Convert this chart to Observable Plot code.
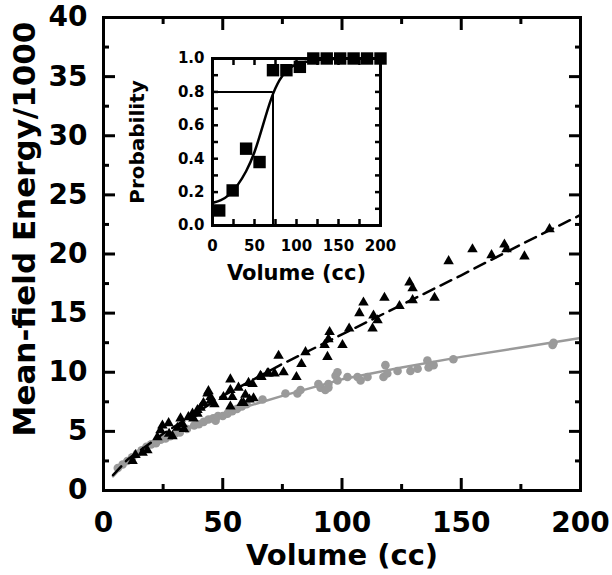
<!DOCTYPE html>
<html><head><meta charset="utf-8">
<script src="https://cdn.jsdelivr.net/npm/d3@7"></script>
<script src="https://cdn.jsdelivr.net/npm/@observablehq/plot@0.6"></script>
<style>
body{margin:0;background:#fff}
#wrap{position:relative;width:612px;height:575px}
#wrap svg{position:absolute}
</style>
</head><body><div id="wrap"></div><script>
// Main chart: black triangles (volume cc, energy/1000)
const triX = [12.2,13.4,16.4,18.4,22.6,23.9,24.7,27.3,27.5,28.9,31,32.3,33.2,33.7,35.6,37.3,39.4,39.4,37.7,40.7,41.9,43.6,44,44.9,44.9,46.5,50.3,53.2,53.2,53.2,54,56.6,57.9,58.7,59.5,60.8,61.2,62.5,62.9,65.8,66.2,68.7,69.2,71.7,73.4,75.5,80.9,83,84.7,92.7,93.9,94.3,94.8,100.2,103,107.3,109,112.8,113.2,114.9,117.8,124.1,128.3,129.6,129.6,138.8,144.7,154.7,162.7,168.1,169,176.5,187];
const triY = [2.5,3.0,3.2,3.4,4.5,5.1,5.5,5.7,4.8,4.6,5.3,6.1,5.6,5.2,6.2,6.5,6.5,6.8,6.1,7.0,7.4,8.2,8.4,7.9,7.6,7.3,7.9,7.1,8.5,9.4,7.9,8.7,7.4,7.4,8.1,9.1,7.7,9.0,7.8,9.7,9.6,9.9,9.9,9.9,11.4,10.0,9.6,10.7,11.7,12.3,11.3,12.8,13.4,12.3,13.7,15.0,15.9,13.7,14.8,14.4,16.3,15.6,17.6,17.1,16.1,16.3,19.4,20.4,19.9,20.8,20.4,19.8,22.1];
// Main chart: grey circles
const cirX = [6,8,10,12,14,16,18,20,22,24,26,28,30,32,35,38,40,42,44,46,47,48,50,52,54,56,58,60,66.7,76.3,81.3,82.6,90.1,91,93,94.3,94.3,97.3,98.1,98.1,102.3,106.5,107.8,110.7,117.4,118.2,119,123.3,128.7,131.7,135.8,136.3,138.4,146.7,188.3,188.7];
const cirY = [1.9,2.2,2.5,2.8,3.1,3.4,3.7,3.9,4.0,4.3,4.4,4.6,4.8,4.9,5.2,5.5,5.6,5.8,6.0,6.1,5.9,6.3,6.3,6.5,6.7,6.9,7.1,7.3,7.7,8.2,8.2,8.5,9.0,8.7,8.5,9.0,8.7,9.7,10.0,9.3,9.6,9.6,9.3,9.6,9.6,10.6,9.9,10.1,10.1,10.3,11.0,10.4,10.6,11.1,12.3,12.5];
// Fitted curves
const dashFitX = [4,10,25,50,75,100,125,150,175,200];
const dashFitY = [1.3,2.6,4.8,8.0,10.7,13.2,15.7,18.2,20.8,23.3];
const greyFitX = [4,10,20,30,50,75,100,125,150,175,200];
const greyFitY = [1.2,2.5,3.9,4.9,6.5,8.0,9.4,10.4,11.3,12.1,12.9];
// Axis ticks
const xMajor = [0,50,100,150,200], xMinor = [25,75,125,175];
const yMajor = [0,5,10,15,20,25,30,35,40], yMinor = [2.5,7.5,12.5,17.5,22.5,27.5,32.5,37.5];

// Inset: probability vs volume
const sqX = [8,24,40,56,72,88,104,120,136,152,168,184,200];
const sqY = [0.09,0.21,0.46,0.38,0.93,0.93,0.95,1,1,1,1,1,1];
const sigX = [0,10,20,30,40,50,60,70,80,90,100,120,150,200];
const sigY = [0.135,0.15,0.18,0.24,0.32,0.43,0.6,0.77,0.88,0.94,0.97,0.99,1,1];
const threshP = 0.8, threshV = 72;
const ixTicks = [0,50,100,150,200], ixAll = [0,25,50,75,100,125,150,175,200];
const iyTicks = [0,0.2,0.4,0.6,0.8,1.0], iyAll = [0,0.1,0.2,0.3,0.4,0.5,0.6,0.7,0.8,0.9,1.0];

const tri = triX.map((x,i)=>({x, y: triY[i]}));
const cir = cirX.map((x,i)=>({x, y: cirY[i]}));
const dashFit = dashFitX.map((x,i)=>({x, y: dashFitY[i]}));
const greyFit = greyFitX.map((x,i)=>({x, y: greyFitY[i]}));
const sq = sqX.map((x,i)=>({x, y: sqY[i]}));
const sig = sigX.map((x,i)=>({x, y: sigY[i]}));

const FONT = "font-family:'DejaVu Sans',sans-serif;font-weight:bold;background:transparent;overflow:visible;color:black;";
const blank = () => "";

const main = Plot.plot({
  width: 612, height: 575,
  marginLeft: 103, marginRight: 32, marginTop: 17, marginBottom: 85,
  x: {domain: [0,200]},
  y: {domain: [0,40]},
  style: FONT,
  marks: [
    Plot.line(greyFit, {x:"x", y:"y", stroke:"#9a9a9a", strokeWidth:2.5}),
    Plot.dot(cir, {x:"x", y:"y", r:4.3, fill:"#9a9a9a", stroke:"none"}),
    Plot.line(dashFit, {x:"x", y:"y", stroke:"black", strokeWidth:2.5, strokeDasharray:"12,7"}),
    Plot.dot(tri, {x:"x", y:"y", symbol:"triangle", r:3.9, fill:"black", stroke:"none"}),
    // labels
    Plot.axisX({anchor:"bottom", ticks:xMajor, tickSize:0, tickPadding:22, fontSize:28, label:null}),
    Plot.axisY({anchor:"left", ticks:yMajor, tickSize:0, tickPadding:16, fontSize:28, label:null}),
    // inward ticks
    Plot.axisX({anchor:"bottom", ticks:xMajor, tickSize:-12, tickFormat:blank, strokeWidth:3, label:null}),
    Plot.axisX({anchor:"bottom", ticks:xMinor, tickSize:-6, tickFormat:blank, strokeWidth:3, label:null}),
    Plot.axisX({anchor:"top", ticks:xMajor, tickSize:-12, tickFormat:blank, strokeWidth:3, label:null}),
    Plot.axisX({anchor:"top", ticks:xMinor, tickSize:-6, tickFormat:blank, strokeWidth:3, label:null}),
    Plot.axisY({anchor:"left", ticks:yMajor, tickSize:-12, tickFormat:blank, strokeWidth:3, label:null}),
    Plot.axisY({anchor:"left", ticks:yMinor, tickSize:-6, tickFormat:blank, strokeWidth:3, label:null}),
    Plot.axisY({anchor:"right", ticks:yMajor, tickSize:-12, tickFormat:blank, strokeWidth:3, label:null}),
    Plot.axisY({anchor:"right", ticks:yMinor, tickSize:-6, tickFormat:blank, strokeWidth:3, label:null}),
    Plot.frame({stroke:"black", strokeWidth:3}),
    Plot.text(["Volume (cc)"], {text:d=>d, frameAnchor:"bottom", dy:65, textAnchor:"middle", lineAnchor:"middle", fontSize:29, fontWeight:"bold"}),
    Plot.text(["Mean-field Energy/1000"], {text:d=>d, frameAnchor:"left", dx:-78, dy:-25, rotate:-90, textAnchor:"middle", lineAnchor:"middle", fontSize:31, fontWeight:"bold"})
  ]
});
main.style.left = "0px"; main.style.top = "0px";

const inset = Plot.plot({
  width: 228, height: 222,
  marginLeft: 45, marginRight: 15, marginTop: 10, marginBottom: 45,
  x: {domain: [0,200]},
  y: {domain: [0,1]},
  style: FONT,
  marks: [
    Plot.ruleY([threshP], {x1: 0, x2: threshV, stroke:"black", strokeWidth:2}),
    Plot.ruleX([threshV], {y1: 0, y2: threshP, stroke:"black", strokeWidth:2}),
    Plot.line(sig, {x:"x", y:"y", stroke:"black", strokeWidth:2.5, curve:"basis"}),
    Plot.axisX({anchor:"bottom", ticks:ixTicks, tickSize:0, tickPadding:15, fontSize:15, label:null}),
    Plot.axisY({anchor:"left", ticks:iyTicks, tickSize:0, tickPadding:8, fontSize:15, tickFormat:d=>d.toFixed(1), label:null}),
    Plot.axisX({anchor:"bottom", ticks:ixAll, tickSize:-6, tickFormat:blank, strokeWidth:2.5, label:null}),
    Plot.axisX({anchor:"top", ticks:ixAll, tickSize:-6, tickFormat:blank, strokeWidth:2.5, label:null}),
    Plot.axisY({anchor:"left", ticks:iyAll, tickSize:-6, tickFormat:blank, strokeWidth:2.5, label:null}),
    Plot.axisY({anchor:"right", ticks:iyAll, tickSize:-6, tickFormat:blank, strokeWidth:2.5, label:null}),
    Plot.frame({stroke:"black", strokeWidth:3}),
    Plot.dot(sq, {x:"x", y:"y", symbol:"square", r:7, fill:"black", stroke:"none"}),
    Plot.text(["Volume (cc)"], {text:d=>d, frameAnchor:"bottom", dy:48, textAnchor:"middle", lineAnchor:"middle", fontSize:21, fontWeight:"bold"}),
    Plot.text(["Probability"], {text:d=>d, frameAnchor:"left", dx:-75, rotate:-90, textAnchor:"middle", lineAnchor:"middle", fontSize:20, fontWeight:"bold"})
  ]
});
inset.style.left = "167px"; inset.style.top = "48px";

const wrap = document.getElementById("wrap");
wrap.appendChild(main);
wrap.appendChild(inset);
</script></body></html>
